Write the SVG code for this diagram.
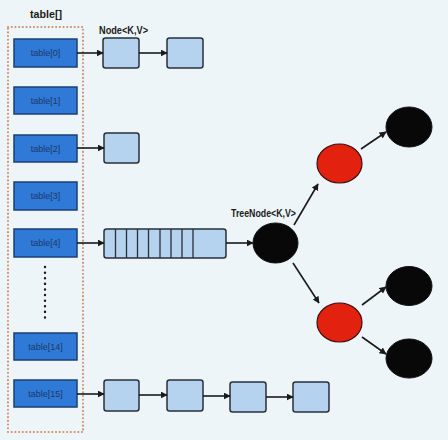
<svg xmlns="http://www.w3.org/2000/svg" width="448" height="440" viewBox="0 0 448 440">
<defs>
<marker id="ah" viewBox="0 0 10 10" refX="9" refY="5" markerWidth="7" markerHeight="7" markerUnits="userSpaceOnUse" orient="auto">
<path d="M0,0 L10,5 L0,10 z" fill="#1a1a1a"/>
</marker>
<style>
.tb{fill:#2e7ad6;stroke:#1c3f73;stroke-width:1.5}
.tt{font-family:"Liberation Sans",Arial,sans-serif;font-size:9px;fill:#1f3868;text-anchor:middle}
.nd{fill:#b5d2ef;stroke:#2a2f3a;stroke-width:1.5}
.lb{font-family:"Liberation Sans",Arial,sans-serif;font-weight:bold;fill:#1a1a1a}
.cn{stroke:#1a1a1a;stroke-width:1.6;fill:none;marker-end:url(#ah)}
.bk{fill:#080808;stroke:#111}
.rd{fill:#e3210f;stroke:#3a1010;stroke-width:1.2}
</style>
</defs>
<rect width="448" height="440" fill="#eef5f8"/>
<g id="labels">
<text class="lb" x="30" y="18" font-size="11" textLength="32" lengthAdjust="spacingAndGlyphs">table[]</text>
<text class="lb" x="99" y="34" font-size="10" textLength="49" lengthAdjust="spacingAndGlyphs">Node&lt;K,V&gt;</text>
<text class="lb" x="231" y="217" font-size="10" textLength="65" lengthAdjust="spacingAndGlyphs">TreeNode&lt;K,V&gt;</text>
</g>
<g id="table-frame">
<rect x="8" y="27" width="75" height="405" fill="none" stroke="#d08a68" stroke-width="2" stroke-linecap="round" stroke-dasharray="0.1,3.6"/>
<line x1="45" y1="267" x2="45" y2="322" stroke="#1a1a1a" stroke-width="2.4" stroke-linecap="round" stroke-dasharray="0.1,5.5"/>
</g>
<g id="table0"><rect class="tb" x="14" y="39" width="63" height="28"/><text class="tt" x="45.5" y="56">table[0]</text></g>
<g id="table1"><rect class="tb" x="14" y="87" width="63" height="27"/><text class="tt" x="45.5" y="104">table[1]</text></g>
<g id="table2"><rect class="tb" x="14" y="135" width="63" height="27"/><text class="tt" x="45.5" y="152">table[2]</text></g>
<g id="table3"><rect class="tb" x="14" y="182" width="63" height="28"/><text class="tt" x="45.5" y="199">table[3]</text></g>
<g id="table4"><rect class="tb" x="14" y="229" width="63" height="28"/><text class="tt" x="45.5" y="246">table[4]</text></g>
<g id="table14"><rect class="tb" x="14" y="333" width="63" height="27"/><text class="tt" x="45.5" y="350">table[14]</text></g>
<g id="table15"><rect class="tb" x="14" y="380" width="63" height="27"/><text class="tt" x="45.5" y="397">table[15]</text></g>

<g id="n0a"><rect class="nd" x="103" y="38" width="36" height="30" rx="2.5"/></g>
<g id="n0b"><rect class="nd" x="167" y="38" width="36" height="30" rx="2.5"/></g>
<g id="n2a"><rect class="nd" x="104" y="133" width="35" height="30" rx="2.5"/></g>
<g id="list4">
<rect class="nd" x="104" y="229" width="122" height="29" rx="2.5"/>
<path d="M115.5,229V258M126.5,229V258M137.5,229V258M148.5,229V258M160,229V258M171,229V258M182,229V258M193,229V258" stroke="#2a2f3a" stroke-width="1.3"/>
</g>
<g id="n15a"><rect class="nd" x="104" y="380" width="35" height="31" rx="2.5"/></g>
<g id="n15b"><rect class="nd" x="167" y="380" width="36" height="31" rx="2.5"/></g>
<g id="n15c"><rect class="nd" x="230" y="382" width="36" height="30" rx="2.5"/></g>
<g id="n15d"><rect class="nd" x="293" y="382" width="36" height="30" rx="2.5"/></g>

<g id="root"><ellipse class="bk" cx="275.5" cy="243" rx="22.5" ry="20"/></g>
<g id="red1"><ellipse class="rd" cx="339.5" cy="163.5" rx="22.5" ry="19.5"/></g>
<g id="red2"><ellipse class="rd" cx="339.5" cy="322.5" rx="22.5" ry="19.5"/></g>
<g id="black1"><ellipse class="bk" cx="409" cy="127" rx="23" ry="20"/></g>
<g id="black2"><ellipse class="bk" cx="409" cy="286" rx="23" ry="19.5"/></g>
<g id="black3"><ellipse class="bk" cx="409" cy="358.5" rx="23" ry="19.5"/></g>

<g id="connectors">
<line class="cn" x1="77" y1="53" x2="103" y2="53"/>
<line class="cn" x1="139" y1="53" x2="167" y2="53"/>
<line class="cn" x1="77" y1="148" x2="104" y2="148"/>
<line class="cn" x1="77" y1="243" x2="104" y2="243"/>
<line class="cn" x1="226" y1="243" x2="253" y2="243"/>
<line class="cn" x1="77" y1="394" x2="104" y2="394"/>
<line class="cn" x1="139" y1="395" x2="167" y2="395"/>
<line class="cn" x1="203" y1="396" x2="230" y2="396"/>
<line class="cn" x1="266" y1="397" x2="293" y2="397"/>
<line class="cn" x1="294" y1="225" x2="318" y2="184"/>
<line class="cn" x1="293" y1="263" x2="319" y2="303"/>
<line class="cn" x1="361" y1="149" x2="386" y2="132"/>
<line class="cn" x1="362" y1="305" x2="386" y2="287"/>
<line class="cn" x1="362" y1="337" x2="386" y2="354"/>
</g>
</svg>
